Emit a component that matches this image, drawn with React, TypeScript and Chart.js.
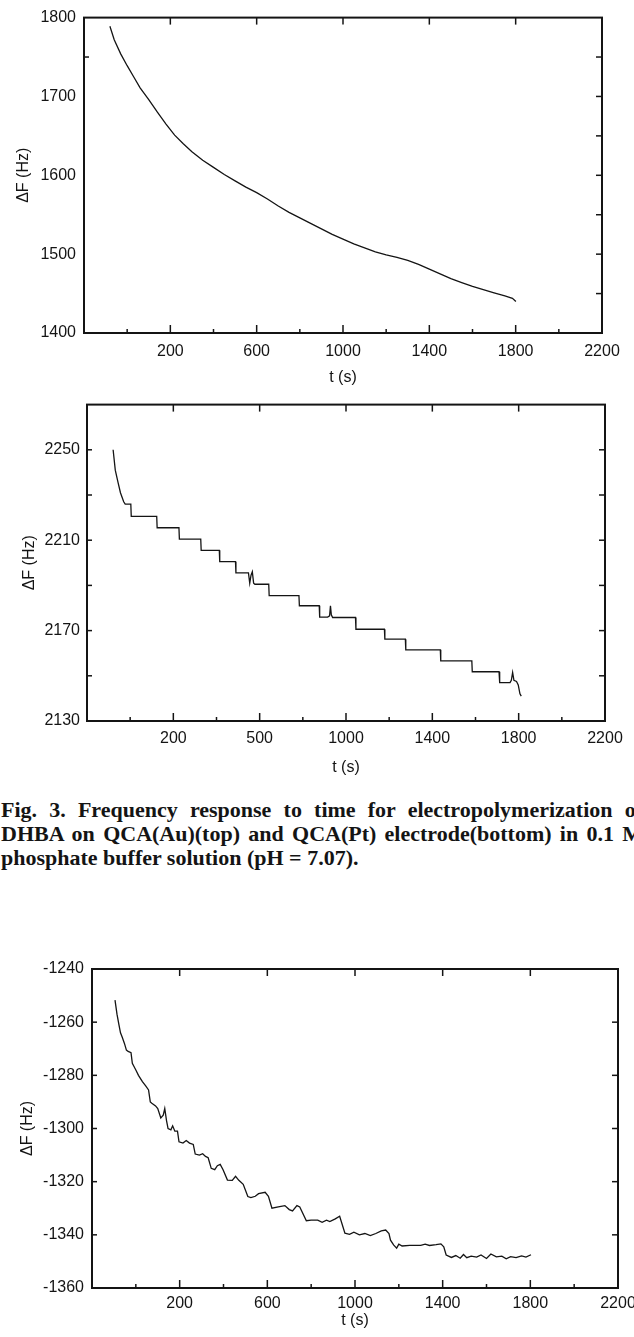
import React, { useEffect, useRef } from 'react';
import { Chart, registerables } from 'chart.js';

Chart.register(...registerables);

// ---------- shared axis data ----------
const X_MIN = -200;
const X_MAX = 2200;
const xMajorTicks = [200, 600, 1000, 1400, 1800, 2200];
const xMinorTicks = [0, 400, 800, 1200, 1600, 2000];
const xLabelsAu = ['200', '600', '1000', '1400', '1800', '2200'];
const xLabelsPt = ['200', '500', '1000', '1400', '1800', '2200'];
const xLabelsBottom = ['200', '600', '1000', '1400', '1800', '2200'];

// ---------- top panel: QCA(Au) ----------
const auT = [-80, -60, -30, 0, 30, 60, 100, 140, 180, 220, 260, 300, 350, 400, 450, 500, 550, 600, 650, 700, 750, 800, 850, 900, 950, 1000, 1050, 1100, 1150, 1200, 1250, 1300, 1350, 1400, 1450, 1500, 1550, 1600, 1650, 1700, 1750, 1785, 1801];
const auF = [1789, 1772, 1754, 1739, 1725, 1711, 1696, 1680, 1665, 1651, 1640, 1630, 1619, 1610, 1601, 1593, 1585, 1578, 1570, 1561, 1553, 1546, 1539, 1532, 1525, 1519, 1513, 1508, 1503, 1499, 1496, 1492, 1487, 1481, 1475, 1469, 1464, 1459, 1455, 1451, 1447, 1444, 1440];
const auYTicks = [1400, 1500, 1600, 1700, 1800];
const auRightTicks = [1450, 1500, 1550, 1600, 1650, 1700, 1750];
const auLeftTicks = [1750];

// ---------- middle panel: QCA(Pt) ----------
const ptT = [-79, -69, -56, -45, -30, -23, 3, 5, 123, 125, 226, 228, 327, 329, 413, 415, 488, 490, 548, 554, 560, 566, 572, 578, 642, 644, 782, 784, 876, 878, 915, 924, 928, 932, 938, 1044, 1046, 1178, 1180, 1275, 1277, 1437, 1439, 1583, 1585, 1709, 1712, 1760, 1766, 1772, 1778, 1790, 1798, 1806, 1812];
const ptF = [2250, 2241, 2235.5, 2231, 2227, 2226, 2226, 2220.5, 2220.5, 2215.5, 2215.5, 2210.5, 2210.5, 2205.5, 2205.5, 2200.5, 2200.5, 2195.5, 2195.5, 2191, 2194.5, 2196, 2191, 2190.5, 2190.5, 2185.5, 2185.5, 2181, 2181, 2176, 2176, 2176.5, 2181, 2177, 2175.8, 2175.8, 2170.6, 2170.6, 2166.2, 2166.2, 2161.5, 2161.5, 2156.6, 2156.6, 2151.8, 2151.8, 2147, 2147, 2148, 2151.5, 2148, 2147.5, 2146, 2142, 2141];
const ptYTicks = [2130, 2170, 2210, 2250];
const ptRightTicks = [2150, 2170, 2190, 2210, 2230, 2250];
const ptLeftTicks = [2150, 2170, 2190, 2210, 2230, 2250];

// ---------- bottom panel ----------
const c3T = [-95, -86, -77, -70, -62, -52, -43, -35, -22, -16, 0, 12, 30, 45, 58, 66, 73, 90, 100, 114, 125, 132, 140, 147, 160, 168, 178, 190, 197, 215, 230, 245, 262, 271, 290, 305, 318, 330, 344, 360, 372, 385, 398, 418, 440, 455, 470, 490, 511, 525, 545, 560, 590, 605, 621, 650, 680, 700, 715, 735, 748, 778, 800, 830, 850, 870, 885, 910, 930, 954, 975, 995, 1020, 1045, 1070, 1095, 1120, 1140, 1155, 1162, 1176, 1190, 1200, 1215, 1250, 1300, 1320, 1340, 1370, 1392, 1405, 1416, 1440, 1460, 1480, 1495, 1510, 1530, 1555, 1575, 1600, 1620, 1645, 1670, 1690, 1710, 1735, 1760, 1780, 1803];
const c3F = [-1251.7, -1257, -1261, -1264, -1265.7, -1268, -1270.5, -1271, -1271.5, -1275.5, -1278, -1280, -1282.4, -1284, -1285.5, -1290, -1290.5, -1291.5, -1292.5, -1296, -1295, -1292.5, -1297, -1300, -1300.5, -1299, -1301, -1301, -1305, -1305.5, -1304.5, -1305.5, -1306, -1309.6, -1310, -1309.5, -1310.5, -1311, -1315, -1315.5, -1314, -1313.5, -1315.5, -1319.4, -1319.5, -1318, -1319.5, -1321, -1325.6, -1326, -1325.5, -1324.5, -1324, -1325.5, -1330, -1329.5, -1329, -1330.5, -1331, -1329, -1329.5, -1334.7, -1334.5, -1334.5, -1335.3, -1334.5, -1335, -1334, -1333, -1339.4, -1339.8, -1339, -1340, -1339.5, -1340.3, -1339.5, -1338.5, -1338.2, -1339.5, -1342, -1343.8, -1345, -1343.5, -1344.2, -1344, -1344, -1343.5, -1344, -1343.7, -1343.4, -1344.5, -1347.6, -1348.5, -1347.8, -1348.8, -1347.4, -1348.6, -1348, -1348.4, -1347.6, -1348.9, -1347.2, -1348.3, -1348, -1349, -1348.2, -1348.6, -1347.9, -1348.4, -1347.5];
const c3YTicks = [-1360, -1340, -1320, -1300, -1280, -1260, -1240];
const c3RightTicks = [-1340, -1320, -1300, -1280, -1260];
const c3LeftTicks = [-1340, -1320, -1300, -1280, -1260];

const CANVAS_W = 680;
const INK = '#141414';
const FONT_FAMILY = '"Liberation Sans", Arial, Helvetica, sans-serif';

type Spec = {
  top: number;
  height: number;
  plot: { left: number; top: number; right: number; bottom: number };
  t: number[];
  f: number[];
  yMin: number;
  yMax: number;
  yTicks: number[];
  xLabels: string[];
  rightTicks: number[];
  leftTicks: number[];
  yTitlePad: number;
  yTickPad: number;
  xTickPad: number;
};

const frameTicks = {
  id: 'frameTicks',
  afterDatasetsDraw(chart: any, _args: any, opts: any) {
    const { ctx, chartArea: a, scales } = chart;
    const xs = scales.x;
    const ys = scales.y;
    ctx.save();
    ctx.strokeStyle = INK;
    ctx.lineWidth = 1.5;
    const seg = (x1: number, y1: number, x2: number, y2: number) => {
      ctx.beginPath();
      ctx.moveTo(x1, y1);
      ctx.lineTo(x2, y2);
      ctx.stroke();
    };
    (opts.bottomMajor || []).forEach((v: number) => {
      const p = xs.getPixelForValue(v);
      seg(p, a.bottom, p, a.bottom - 8);
    });
    (opts.bottomMinor || []).forEach((v: number) => {
      const p = xs.getPixelForValue(v);
      seg(p, a.bottom, p, a.bottom - 4);
    });
    (opts.topMajor || []).forEach((v: number) => {
      const p = xs.getPixelForValue(v);
      seg(p, a.top, p, a.top + 7);
    });
    (opts.right || []).forEach((v: number) => {
      const p = ys.getPixelForValue(v);
      seg(a.right, p, a.right - 6, p);
    });
    (opts.left || []).forEach((v: number) => {
      const p = ys.getPixelForValue(v);
      seg(a.left, p, a.left + 5, p);
    });
    ctx.lineWidth = 2;
    ctx.strokeRect(a.left, a.top, a.right - a.left, a.bottom - a.top);
    ctx.restore();
  },
};

function buildConfig(s: Spec): any {
  const font = { family: FONT_FAMILY, size: 16 };
  return {
    type: 'line',
    data: {
      datasets: [
        {
          data: s.t.map((x, i) => ({ x, y: s.f[i] })),
          borderColor: INK,
          borderWidth: 1.3,
          pointRadius: 0,
          fill: false,
          tension: 0,
        },
      ],
    },
    options: {
      responsive: false,
      animation: false,
      events: [],
      layout: {
        padding: { top: s.plot.top - s.top, right: CANVAS_W - s.plot.right, left: 0, bottom: 0 },
      },
      plugins: {
        legend: { display: false },
        tooltip: { enabled: false },
        frameTicks: {
          bottomMajor: xMajorTicks.slice(0, 5),
          bottomMinor: xMinorTicks,
          topMajor: xMajorTicks.slice(0, 5),
          right: s.rightTicks,
          left: s.leftTicks,
        },
      },
      scales: {
        x: {
          type: 'linear',
          min: X_MIN,
          max: X_MAX,
          grid: { display: false, drawTicks: false },
          border: { display: false },
          afterBuildTicks: (sc: any) => {
            sc.ticks = xMajorTicks.map((v) => ({ value: v }));
          },
          afterFit: (sc: any) => {
            sc.height = s.top + s.height - s.plot.bottom;
          },
          ticks: {
            padding: s.xTickPad,
            maxRotation: 0,
            autoSkip: false,
            color: INK,
            font,
            callback: (v: number) => {
              const i = xMajorTicks.indexOf(v);
              return i >= 0 ? s.xLabels[i] : '';
            },
          },
          title: { display: true, text: 't (s)', color: INK, font, padding: 0 },
        },
        y: {
          type: 'linear',
          min: s.yMin,
          max: s.yMax,
          grid: { display: false, drawTicks: false },
          border: { display: false },
          afterBuildTicks: (sc: any) => {
            sc.ticks = s.yTicks.map((v) => ({ value: v }));
          },
          afterFit: (sc: any) => {
            sc.width = s.plot.left;
          },
          ticks: {
            padding: s.yTickPad,
            autoSkip: false,
            color: INK,
            font,
            callback: (v: number) => String(v),
          },
          title: {
            display: true,
            text: 'ΔF (Hz)',
            color: INK,
            font,
            padding: { top: s.yTitlePad, bottom: 0 },
          },
        },
      },
    },
    plugins: [frameTicks],
  };
}

const specAu: Spec = {
  top: 0,
  height: 387,
  plot: { left: 84, top: 15, right: 602, bottom: 333 },
  t: auT,
  f: auF,
  yMin: 1400,
  yMax: 1800,
  yTicks: auYTicks,
  xLabels: xLabelsAu,
  rightTicks: auRightTicks,
  leftTicks: auLeftTicks,
  yTitlePad: 14,
  yTickPad: 8,
  xTickPad: 9,
};

const specPt: Spec = {
  top: 388,
  height: 389,
  plot: { left: 87, top: 404, right: 605, bottom: 721 },
  t: ptT,
  f: ptF,
  yMin: 2130,
  yMax: 2270,
  yTicks: ptYTicks,
  xLabels: xLabelsPt,
  rightTicks: ptRightTicks,
  leftTicks: ptLeftTicks,
  yTitlePad: 20,
  yTickPad: 7,
  xTickPad: 8,
};

const specBottom: Spec = {
  top: 950,
  height: 380,
  plot: { left: 92, top: 969, right: 618, bottom: 1288 },
  t: c3T,
  f: c3F,
  yMin: -1360,
  yMax: -1240,
  yTicks: c3YTicks,
  xLabels: xLabelsBottom,
  rightTicks: c3RightTicks,
  leftTicks: c3LeftTicks,
  yTitlePad: 18,
  yTickPad: 8,
  xTickPad: 6,
};

function Panel({ spec }: { spec: Spec }) {
  const ref = useRef<HTMLCanvasElement>(null);
  useEffect(() => {
    const chart = new Chart(ref.current as HTMLCanvasElement, buildConfig(spec));
    return () => chart.destroy();
  }, [spec]);
  return (
    <canvas
      ref={ref}
      width={CANVAS_W}
      height={spec.height}
      style={{ position: 'absolute', left: 0, top: spec.top, width: CANVAS_W, height: spec.height, display: 'block' }}
    />
  );
}

const captionLines = [
  'Fig. 3. Frequency response to time for electropolymerization of',
  'DHBA on QCA(Au)(top) and QCA(Pt) electrode(bottom) in 0.1 M',
  'phosphate buffer solution (pH = 7.07).',
];

export default function App() {
  return (
    <div
      style={{
        position: 'absolute',
        left: 0,
        top: 0,
        width: 634,
        height: 1337,
        overflow: 'hidden',
        background: '#fff',
      }}
    >
      <Panel spec={specAu} />
      <Panel spec={specPt} />
      <div
        style={{
          position: 'absolute',
          left: 1,
          top: 798,
          width: 642,
          font: 'bold 22px "Liberation Serif", "Times New Roman", serif',
          lineHeight: '24px',
          color: INK,
        }}
      >
        {captionLines.map((line, i) => (
          <div
            key={i}
            style={{
              textAlign: i < 2 ? 'justify' : 'left',
              textAlignLast: i < 2 ? 'justify' : 'left',
            }}
          >
            {line}
          </div>
        ))}
      </div>
      <Panel spec={specBottom} />
    </div>
  );
}
